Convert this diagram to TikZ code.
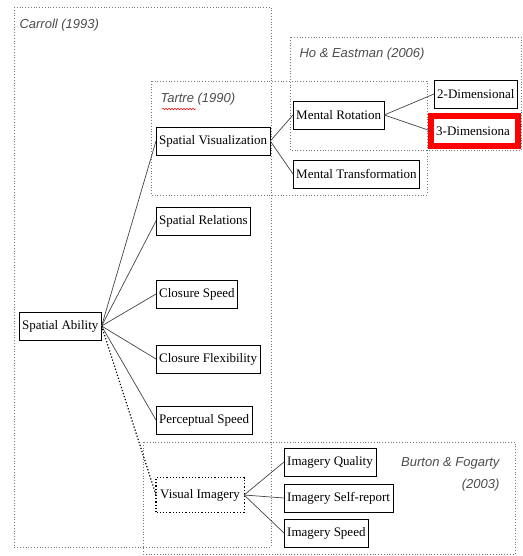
\documentclass[tikz,border=0pt]{standalone}
\usepackage{fontspec}
\setmainfont{Liberation Serif}
\newfontfamily\grpfont{Liberation Sans}
\usetikzlibrary{decorations.pathmorphing}
\definecolor{linkgray}{HTML}{444444}
\definecolor{grpgray}{HTML}{777777}

\begin{document}
\begin{tikzpicture}[x=1pt,y=-1pt,
    concept/.style={draw, fill=white, anchor=west, minimum height=28pt, inner xsep=3pt,
      font=\fontsize{13}{15}\selectfont},
    group/.style={draw=grpgray, dotted, line width=0.8pt},
    grplabel/.style={font=\grpfont\itshape\fontsize{13}{22}\selectfont, text=black!70},
    link/.style={draw=linkgray, line width=0.7pt}]
                \useasboundingbox (0,0) rectangle (522,556);
                % groups
                \draw[group] (14,7) rectangle (271,547);
                \draw[group] (151,81) rectangle (427,195);
                \draw[group] (290,37) rectangle (521,150);
                \draw[group] (143,442) rectangle (515,554);
                \node[grplabel, anchor=west] (carroll) at (16,25) {Carroll (1993)};
                \node[grplabel, anchor=west] (tartre) at (157,99) {Tartre (1990)};
                \draw[red, line width=0.5pt, decoration={snake, amplitude=0.8pt, segment length=3pt}, decorate]
                    (162,109) -- (196,109);
                \node[grplabel, anchor=west] (ho) at (296,54) {Ho \& Eastman (2006)};
                \node[grplabel, anchor=east, align=right] (burton) at (503,474) {Burton \& Fogarty\\(2003)};
                % concepts
                \node[concept] (ability) at (19,326) {Spatial Ability};
                \node[concept] (visual) at (156,141) {Spatial Visualization};
                \node[concept] (relations) at (156,221) {Spatial Relations};
                \node[concept] (cspeed) at (156,294) {Closure Speed};
                \node[concept] (cflex) at (156,359) {Closure Flexibility};
                \node[concept] (percept) at (156,420) {Perceptual Speed};
                \node[concept, draw=none, minimum height=34pt, inner xsep=4pt] (imagery) at (156,495) {Visual Imagery};
                \draw[dotted, line width=1.2pt] (imagery.south west) rectangle (imagery.north east);
                \node[concept] (rotation) at (293,115) {Mental Rotation};
                \node[concept] (transform) at (293,174) {Mental Transformation};
                \node[concept] (twod) at (434,94) {2-Dimensional};
                \draw[red, line width=6pt] (431,116) rectangle (518,146);
                \node[anchor=west, inner sep=0pt, font=\fontsize{13}{15}\selectfont] (threed) at (436,131) {3-Dimensiona};
                \node[concept] (quality) at (284,462) {Imagery Quality};
                \node[concept] (selfrep) at (284,498) {Imagery Self-report};
                \node[concept] (ispeed) at (284,533) {Imagery Speed};
                % links
                \foreach \t in {visual,relations,cspeed,cflex,percept}
                    \draw[link] (ability.east) -- (\t.west);
                \draw[dotted, line width=1.2pt] (ability.east) -- (imagery.west);
                \draw[link] (visual.east) -- (rotation.west);
                \draw[link] (visual.east) -- (transform.west);
                \draw[link] (rotation.east) -- (twod.west);
                \draw[link] (rotation.east) -- (431,131);
                \foreach \t in {quality,selfrep,ispeed}
                    \draw[link] (imagery.east) -- (\t.west);
            \end{tikzpicture}
\end{document}
